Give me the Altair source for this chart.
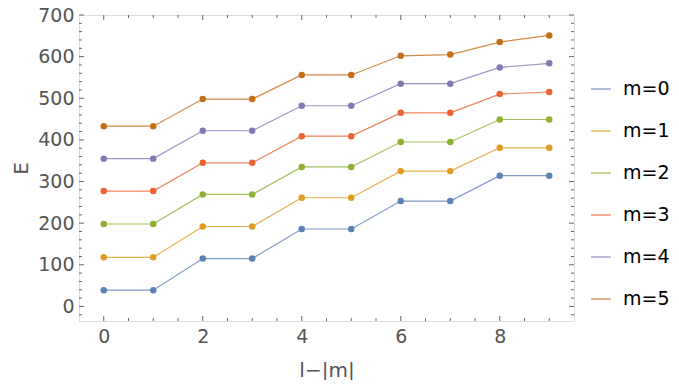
import altair as alt
import pandas as pd

x_vals = list(range(10))
series_names = ["m=0", "m=1", "m=2", "m=3", "m=4", "m=5"]
m0 = [39, 39, 115, 115, 186, 186, 253, 253, 314, 314]
m1 = [118, 118, 192, 192, 261, 261, 325, 325, 381, 381]
m2 = [198, 198, 269, 269, 335, 335, 395, 395, 449, 449]
m3 = [277, 277, 345, 345, 409, 409, 465, 465, 510, 515]
m4 = [355, 355, 422, 422, 482, 482, 535, 535, 574, 584]
m5 = [433, 433, 498, 498, 556, 556, 602, 605, 635, 651]
colors = ["#5E81B5", "#E19C24", "#8FB032", "#EB6235", "#8778B3", "#C56E1A"]

x_major = [0, 2, 4, 6, 8]
x_minor = [0.5, 1, 1.5, 2.5, 3, 3.5, 4.5, 5, 5.5, 6.5, 7, 7.5, 8.5, 9]
y_major = [0, 100, 200, 300, 400, 500, 600, 700]
y_minor = [v for v in range(-20, 700, 20) if v % 100 != 0]

rows = []
for name, vals in zip(series_names, [m0, m1, m2, m3, m4, m5]):
    for xv, yv in zip(x_vals, vals):
        rows.append({"x": xv, "E": yv, "series": name})
df = pd.DataFrame(rows)

W, H = 495, 306
FONT = "DejaVu Sans"
LC = "#555555"
xscale = alt.Scale(domain=[-0.5, 9.5], nice=False, zero=False)
yscale = alt.Scale(domain=[-35, 700], nice=False, zero=False)
cscale = alt.Scale(domain=series_names, range=colors)

base = alt.Chart(df)
lines = base.mark_line(strokeWidth=1.2, opacity=0.8).encode(
    x=alt.X("x:Q", scale=xscale,
            axis=alt.Axis(values=x_major, title="l\u2212|m|", ticks=False, domain=False,
                          grid=False, labelFontSize=19, labelColor=LC,
                          labelPadding=6, labelFont=FONT, titleFont=FONT,
                          titleFontSize=20, titleFontWeight="normal", titleColor=LC,
                          titleY=49, titleBaseline="middle")),
    y=alt.Y("E:Q", scale=yscale,
            axis=alt.Axis(values=y_major, title="E", ticks=False, domain=False,
                          grid=False, labelFontSize=19, labelColor=LC,
                          labelPadding=5, labelFont=FONT, titleFont=FONT,
                          titleFontSize=20, titleFontWeight="normal", titleColor=LC,
                          titleX=-58, titleY=H / 2, titleAngle=-90,
                          titleAlign="center", titleBaseline="middle")),
    color=alt.Color("series:N", scale=cscale,
                    legend=alt.Legend(title=None, orient="none", legendX=511, legendY=63,
                                      symbolType="stroke", symbolSize=400,
                                      symbolStrokeWidth=2, symbolOpacity=0.5,
                                      labelFontSize=19, labelFont=FONT,
                                      labelColor="black", rowPadding=21,
                                      labelOffset=11, padding=0)),
    detail="series:N",
)
points = base.mark_point(filled=True, size=42, opacity=1).encode(
    x=alt.X("x:Q", scale=xscale),
    y=alt.Y("E:Q", scale=yscale),
    color=alt.Color("series:N", scale=cscale, legend=None),
)

TC = "#666666"
def xt(vals, y0, y1):
    return alt.Chart(pd.DataFrame({"t": vals})).mark_rule(color=TC, strokeWidth=1).encode(
        x=alt.X("t:Q", scale=xscale), y=alt.value(y0), y2=alt.value(y1))

def yt(vals, x0, x1):
    return alt.Chart(pd.DataFrame({"t": vals})).mark_rule(color=TC, strokeWidth=1).encode(
        y=alt.Y("t:Q", scale=yscale), x=alt.value(x0), x2=alt.value(x1))

ticks = [
    xt(x_major, H, H - 5), xt(x_minor, H, H - 3),
    xt(x_major, 0, 5), xt(x_minor, 0, 3),
    yt(y_major, 0, 5), yt(y_minor, 0, 3),
    yt(y_major, W, W - 5), yt(y_minor, W, W - 3),
]

chart = alt.layer(*ticks, lines, points).properties(
    width=W, height=H,
    autosize=alt.AutoSizeParams(type="none"),
    padding={"left": 71, "top": 7, "right": 97, "bottom": 59},
).configure_view(stroke=TC, strokeWidth=1).configure(background="white")

chart.save("out.html", embed_options={"renderer": "svg", "actions": False})
